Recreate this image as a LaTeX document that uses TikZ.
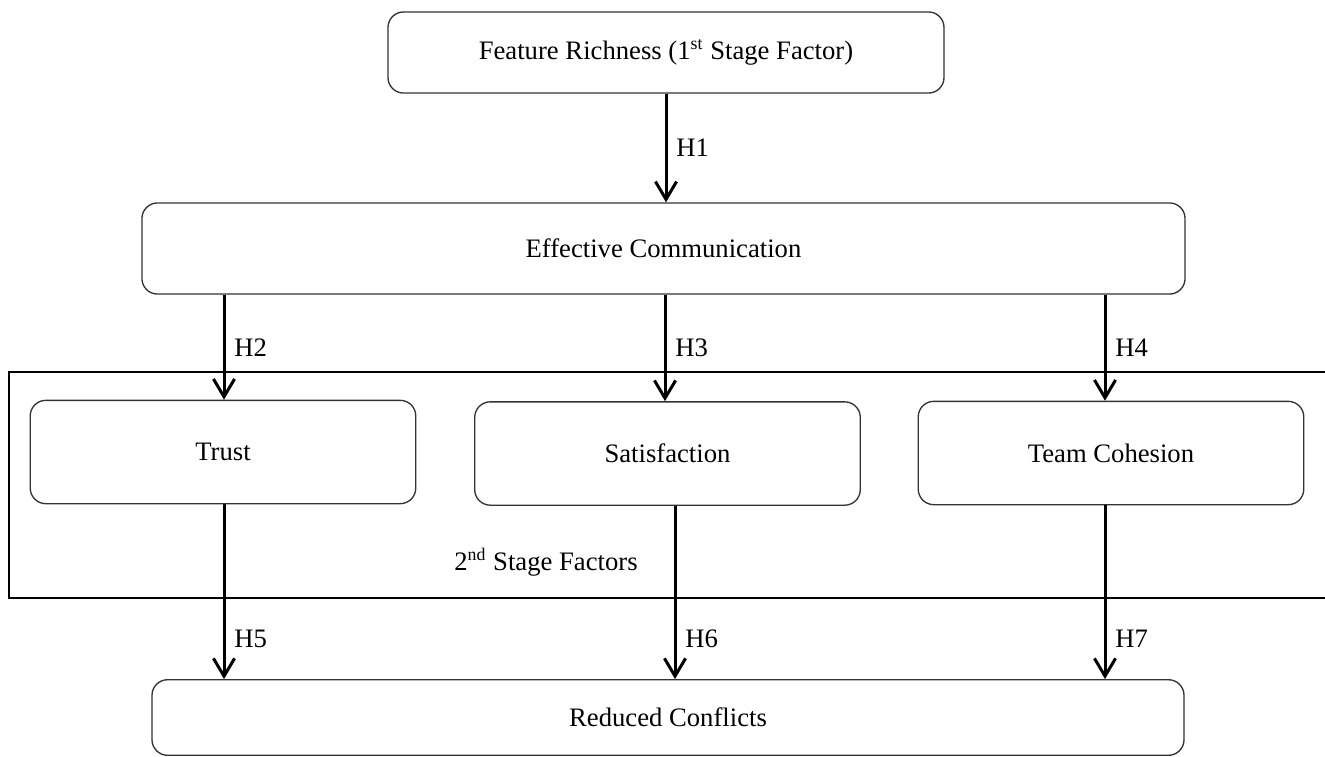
\documentclass[tikz,border=0pt]{standalone}
\usepackage{fontspec}
\setmainfont{Liberation Serif}
\usetikzlibrary{arrows.meta}

\tikzset{
  box/.style={draw=black!80, line width=0.6pt, rounded corners=7pt,
    inner sep=0pt, font=\fontsize{12}{14}\selectfont},
  hyp/.style={line width=1.35pt, -{Straight Barb[length=8pt,width=9.5pt]}},
  hlab/.style={right, xshift=3pt, inner sep=1pt, font=\fontsize{12}{14}\selectfont},
}

\begin{document}
\begin{tikzpicture}[x=0.45pt, y=-0.45pt]
  \useasboundingbox (0,0) rectangle (1325,756);

  % boxes
  \node[box, minimum width=250.2pt, minimum height=36.5pt] (feat) at (666,52.5)
    {Feature Richness (1\textsuperscript{st} Stage Factor)};
  \node[box, minimum width=469.4pt, minimum height=41pt] (comm) at (663.5,248.5)
    {Effective Communication};
  \node[box, minimum width=173.5pt, minimum height=46.5pt] (trust) at (223,452)
    {Trust};
  \node[box, minimum width=173.5pt, minimum height=46.5pt] (satis) at (667.5,453.5)
    {Satisfaction};
  \node[box, minimum width=173.5pt, minimum height=46.5pt] (cohes) at (1111,453)
    {Team Cohesion};
  \node[box, minimum width=464.4pt, minimum height=34pt] (redu) at (668,717.5)
    {Reduced Conflicts};

  % 2nd stage region
  \draw[line width=0.6pt] (1325,372) -- (9,372) -- (9,598) -- (1325,598);
  \node[font=\fontsize{12}{14}\selectfont] (stage) at (546,562)
    {2\textsuperscript{nd} Stage Factors};

  % hypotheses
  \coordinate (x1) at (666,0);
  \coordinate (x2) at (224,0);
  \coordinate (x3) at (665,0);
  \coordinate (x4) at (1105,0);
  \coordinate (x6) at (675,0);
  \draw[hyp] (feat.south -| x1) -- node[hlab] {H1} (comm.north -| x1);
  \draw[hyp] (comm.south -| x2) -- node[hlab] {H2} (trust.north -| x2);
  \draw[hyp] (comm.south -| x3) -- node[hlab] {H3} (satis.north -| x3);
  \draw[hyp] (comm.south -| x4) -- node[hlab] {H4} (cohes.north -| x4);
  \draw[hyp] (trust.south -| x2) -- node[hlab, pos=0.77] {H5} (redu.north -| x2);
  \draw[hyp] (satis.south -| x6) -- node[hlab, pos=0.77] {H6} (redu.north -| x6);
  \draw[hyp] (cohes.south -| x4) -- node[hlab, pos=0.77] {H7} (redu.north -| x4);
\end{tikzpicture}
\end{document}
